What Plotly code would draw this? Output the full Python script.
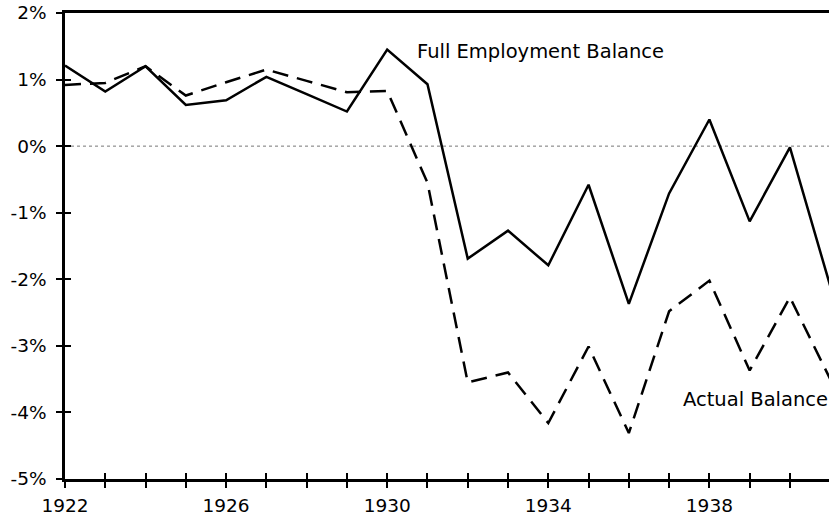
import plotly.graph_objects as go

years = list(range(1922, 1942))
full_employment = [1.21, 0.82, 1.20, 0.62, 0.69, 1.04, 0.78, 0.52, 1.45, 0.93,
                   -1.69, -1.27, -1.79, -0.58, -2.37, -0.71, 0.40, -1.13, -0.02, -2.10]
actual = [0.92, 0.95, 1.20, 0.76, 0.96, 1.15, 0.98, 0.81, 0.83, -0.55,
          -3.55, -3.40, -4.16, -3.01, -4.31, -2.48, -2.02, -3.37, -2.27, -3.50]

y_ticks = [2, 1, 0, -1, -2, -3, -4, -5]
y_labels = ["2%", "1%", "0%", "-1%", "-2%", "-3%", "-4%", "-5%"]
x_labels = [str(y) if (y - 1922) % 4 == 0 else "" for y in years]

FONT = "DejaVu Sans"

fig = go.Figure()
fig.add_trace(go.Scatter(x=years, y=actual, mode="lines",
                         line=dict(color="black", width=2.5, dash="16px,9px"),
                         showlegend=False))
fig.add_trace(go.Scatter(x=years, y=full_employment, mode="lines",
                         line=dict(color="black", width=2.5),
                         showlegend=False))

# dotted zero line
fig.add_shape(type="line", xref="paper", x0=0, x1=1, yref="y", y0=0, y1=0,
              line=dict(color="#777", width=1, dash="dot"), layer="below")

fig.add_annotation(x=1930.68, y=1.42, text="Full Employment Balance",
                   xanchor="left", yanchor="middle", showarrow=False,
                   font=dict(family=FONT, size=19.5, color="black"))
fig.add_annotation(x=1937.3, y=-3.8, text="Actual Balance",
                   xanchor="left", yanchor="middle", showarrow=False,
                   font=dict(family=FONT, size=19.5, color="black"))

axis_font = dict(family=FONT, size=18.5, color="black")
x_range = [1922, 1940.97]
y_range = [-5, 2]

fig.update_layout(
    width=829, height=517,
    margin=dict(l=65, r=0, t=13, b=38),
    plot_bgcolor="white", paper_bgcolor="white",
    xaxis=dict(range=x_range, tickvals=years, ticktext=x_labels,
               ticks="outside", ticklen=6, tickwidth=2, tickcolor="black",
               showline=True, linewidth=2.5, linecolor="black", mirror=True,
               showgrid=False, zeroline=False, tickfont=axis_font,
               ticklabelstandoff=2),
    yaxis=dict(range=y_range, tickvals=y_ticks, ticktext=y_labels,
               ticks="outside", ticklen=6, tickwidth=2, tickcolor="black",
               showline=True, linewidth=2.5, linecolor="black",
               showgrid=False, zeroline=False, tickfont=axis_font,
               ticklabelstandoff=6, ticklabeloverflow="allow"),
    # overlay axes give the inside half of the crossing tick marks
    xaxis2=dict(range=x_range, overlaying="x", tickvals=years, ticktext=[""] * len(years),
                ticks="inside", ticklen=6, tickwidth=2, tickcolor="black",
                showgrid=False, zeroline=False, side="bottom", anchor="y"),
    yaxis2=dict(range=y_range, overlaying="y", tickvals=y_ticks, ticktext=[""] * len(y_ticks),
                ticks="inside", ticklen=6, tickwidth=2, tickcolor="black",
                showgrid=False, zeroline=False, side="left", anchor="x"),
)
fig.add_trace(go.Scatter(x=[], y=[], xaxis="x2", yaxis="y2", showlegend=False))

# drop the page's default body margin so the figure fills the window
fig.write_html("out.html", config={"displayModeBar": False},
               post_script="document.body.style.margin = '0';")
